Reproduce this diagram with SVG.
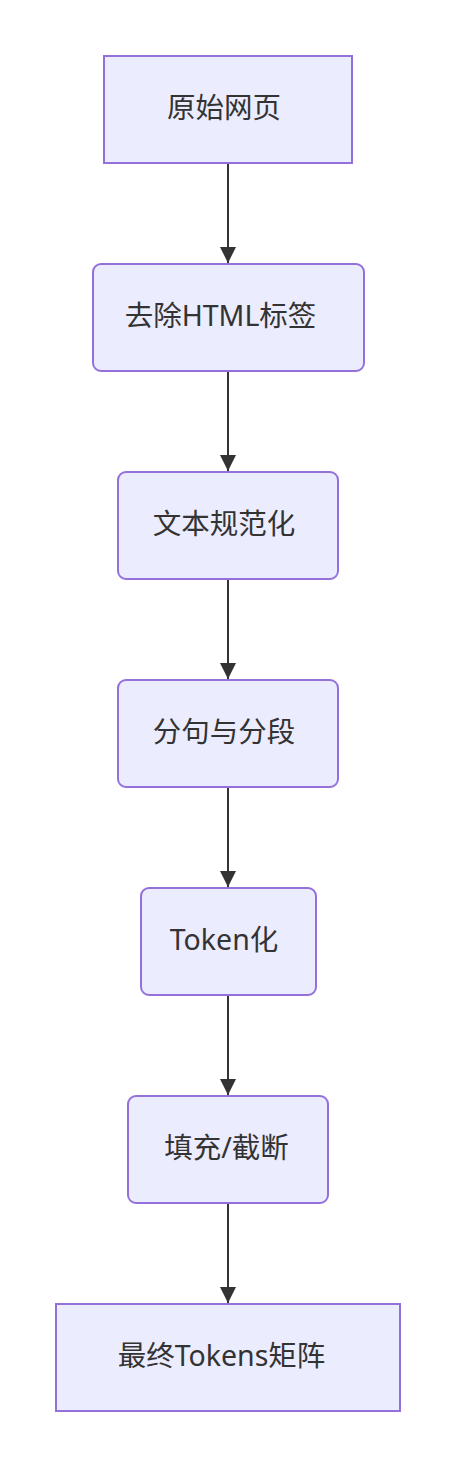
<svg xmlns="http://www.w3.org/2000/svg" width="456" height="1468" viewBox="0 0 456 1468">
<style>
.n rect{fill:#ECECFF;stroke:#9370DB;stroke-width:2}
.n text{font-family:"Noto Sans","Noto Sans CJK SC",sans-serif;font-size:28.5px;fill:#333;text-anchor:middle;dominant-baseline:central}
.e path{stroke:#333;stroke-width:2;fill:none}
</style>
<defs>
<marker id="ah" viewBox="0 0 10 10" refX="10" refY="5" markerWidth="16" markerHeight="16" markerUnits="userSpaceOnUse" orient="auto">
<path d="M0,0 L10,5 L0,10 z" fill="#333"/>
</marker>
</defs>
<rect width="456" height="1468" fill="#fff"/>
<g class="e">
<path d="M228,164 V263" marker-end="url(#ah)"/>
<path d="M228,372 V471" marker-end="url(#ah)"/>
<path d="M228,580 V679" marker-end="url(#ah)"/>
<path d="M228,788 V887" marker-end="url(#ah)"/>
<path d="M228,996 V1095" marker-end="url(#ah)"/>
<path d="M228,1204 V1303" marker-end="url(#ah)"/>
</g>
<g class="n" id="n1"><rect x="104" y="56" width="248" height="107"/><text x="224" y="107">原始网页</text></g>
<g class="n" id="n2"><rect x="93" y="264" width="271" height="107" rx="8"/><text x="220.5" y="315">去除HTML标签</text></g>
<g class="n" id="n3"><rect x="118" y="472" width="220" height="107" rx="8"/><text x="224" y="523">文本规范化</text></g>
<g class="n" id="n4"><rect x="118" y="680" width="220" height="107" rx="8"/><text x="224" y="731">分句与分段</text></g>
<g class="n" id="n5"><rect x="141" y="888" width="175" height="107" rx="8"/><text x="224" y="939">Token化</text></g>
<g class="n" id="n6"><rect x="128" y="1096" width="200" height="107" rx="8"/><text x="226.5" y="1147">填充/截断</text></g>
<g class="n" id="n7"><rect x="56" y="1304" width="344" height="107"/><text x="221.5" y="1355">最终Tokens矩阵</text></g>
</svg>
